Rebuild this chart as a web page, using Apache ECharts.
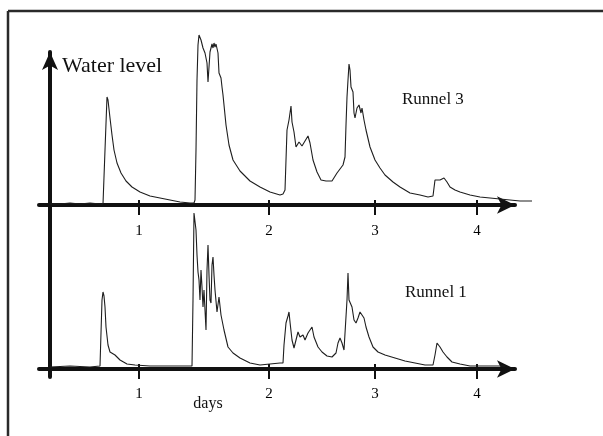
<!DOCTYPE html>
<html>
<head>
<meta charset="utf-8">
<script src="https://cdn.jsdelivr.net/npm/echarts@6/dist/echarts.min.js"></script>
<style>
  html, body { margin: 0; padding: 0; background: #fff; }
  #chart { width: 603px; height: 436px; }
</style>
</head>
<body>
<div id="chart"></div>
<script>
(function () {
  "use strict";
  const chart = echarts.init(document.getElementById("chart"));

  // time (days) / water level (relative units)
  const runnel3 = [
    [0.00, 0.5], [0.10, 0.5], [0.20, 1.0], [0.30, 0.5], [0.40, 1.0], [0.50, 0.5], [0.53, 0.5],
    [0.55, 27.5], [0.57, 54], [0.58, 52.5], [0.60, 43.5], [0.62, 35], [0.64, 27.5], [0.67, 21],
    [0.71, 16], [0.76, 12], [0.82, 9], [0.90, 6.5], [1.00, 4.5], [1.10, 3.5], [1.20, 2.5],
    [1.30, 1.5], [1.40, 1.0], [1.44, 1.0], [1.45, 2.5], [1.46, 27.5], [1.47, 62.5], [1.48, 80],
    [1.49, 85], [1.51, 82.5], [1.53, 78.5], [1.55, 76], [1.57, 71], [1.58, 61.5], [1.60, 76.5],
    [1.61, 77.5], [1.62, 80.5], [1.63, 78.5], [1.64, 81], [1.65, 79], [1.66, 80.5], [1.68, 76],
    [1.69, 66], [1.71, 63.5], [1.72, 59], [1.73, 55], [1.75, 45], [1.76, 40], [1.79, 30],
    [1.83, 22.5], [1.90, 17], [2.00, 12], [2.10, 9], [2.20, 6.5], [2.30, 5], [2.33, 5.5],
    [2.35, 7.5], [2.36, 22.5], [2.37, 37.5], [2.39, 42.5], [2.41, 49.5], [2.42, 41.5], [2.44, 36.5],
    [2.46, 29], [2.49, 31.5], [2.52, 29.5], [2.55, 32], [2.58, 34.5], [2.60, 31], [2.63, 22.5],
    [2.67, 16.5], [2.71, 12.5], [2.76, 12], [2.82, 12], [2.87, 16], [2.93, 20], [2.95, 24],
    [2.96, 40], [2.97, 54], [2.98, 62.5], [2.99, 70.5], [3.00, 67.5], [3.01, 59], [3.03, 56.5],
    [3.04, 46], [3.05, 43.5], [3.07, 48.5], [3.09, 50], [3.11, 46], [3.12, 48.5], [3.14, 42.5],
    [3.16, 37.5], [3.20, 29], [3.25, 22.5], [3.30, 18.5], [3.35, 15], [3.43, 11.5], [3.50, 9],
    [3.60, 6], [3.70, 5], [3.78, 4], [3.83, 4.5], [3.85, 12.5], [3.87, 13], [3.90, 12.5],
    [3.94, 13.5], [3.97, 11.5], [4.00, 9], [4.05, 7.5], [4.10, 6.5], [4.20, 5], [4.30, 4],
    [4.40, 3.5], [4.50, 3], [4.60, 2.5], [4.70, 2], [4.82, 2]
  ];
  const runnel1 = [
    [0.00, 1], [0.20, 1.5], [0.40, 1], [0.50, 1.5], [0.51, 1.5], [0.52, 34.5], [0.53, 38.5],
    [0.54, 36.5], [0.55, 31], [0.56, 21], [0.58, 12], [0.60, 8.5], [0.65, 7], [0.70, 4.5],
    [0.77, 2.5], [0.85, 2], [1.00, 1.5], [1.20, 1.5], [1.42, 1.5], [1.43, 34.5], [1.44, 78],
    [1.46, 69.5], [1.47, 57], [1.48, 48.5], [1.49, 44.5], [1.50, 34.5], [1.51, 49.5], [1.52, 41],
    [1.53, 31], [1.54, 39.5], [1.56, 19.5], [1.57, 49.5], [1.58, 62], [1.59, 47], [1.60, 34.5],
    [1.61, 33], [1.62, 52], [1.63, 56], [1.64, 47], [1.65, 39.5], [1.67, 28.5], [1.69, 36],
    [1.71, 27], [1.74, 19.5], [1.78, 11], [1.83, 8], [1.90, 5.5], [2.00, 3], [2.10, 2],
    [2.20, 2.5], [2.30, 3], [2.33, 3], [2.34, 12], [2.36, 23], [2.38, 26.5], [2.39, 28.5],
    [2.40, 23.5], [2.42, 14.5], [2.44, 10.5], [2.46, 14.5], [2.48, 18.5], [2.50, 16], [2.53, 17],
    [2.55, 14.5], [2.58, 18], [2.62, 21], [2.64, 16], [2.68, 11], [2.72, 8.5], [2.77, 6.5],
    [2.82, 6], [2.86, 8], [2.88, 13], [2.90, 15.5], [2.92, 13], [2.94, 9.5], [2.96, 8.5],
    [2.97, 34.5], [2.98, 48], [2.99, 34.5], [3.00, 33.5], [3.02, 31], [3.04, 24.5], [3.06, 23],
    [3.08, 25.5], [3.10, 28.5], [3.12, 27], [3.14, 25.5], [3.16, 21], [3.19, 16], [3.23, 11],
    [3.28, 8.5], [3.35, 7], [3.45, 5.5], [3.55, 4], [3.65, 3], [3.75, 2], [3.83, 2], [3.85, 7],
    [3.87, 13], [3.90, 11], [3.93, 8.5], [3.97, 6], [4.02, 3.5], [4.10, 2.5], [4.20, 1.5],
    [4.40, 1.5], [4.55, 1.5]
  ];
  const dayTicks = [0.89, 2.19, 3.25, 4.27];
  const dayLabels = ["1", "2", "3", "4"];

  const INK = "#111";
  const SERIF = '"Liberation Serif", "DejaVu Serif", serif';
  const X_MIN = -0.11, X_MAX = 4.65;

  const dayLabel = v => {
    const i = dayTicks.findIndex(t => Math.abs(t - v) < 1e-6);
    return i < 0 ? "" : dayLabels[i];
  };

  function dayAxis(gridIndex, inner, margin) {
    return {
      type: "value", gridIndex, min: X_MIN, max: X_MAX, position: "bottom",
      splitLine: { show: false },
      axisLine: inner ? { show: false } : {
        show: true, onZero: false,
        symbol: ["none", "arrow"], symbolSize: [13, 18],
        lineStyle: { color: INK, width: 4 }
      },
      axisTick: {
        show: true, inside: inner, length: inner ? 5 : 10, customValues: dayTicks,
        lineStyle: { color: INK, width: 2 }
      },
      axisLabel: {
        show: !inner, customValues: dayTicks, formatter: dayLabel, margin,
        fontFamily: SERIF, fontSize: 15, color: "#000"
      }
    };
  }

  function levelAxis(gridIndex) {
    return { type: "value", gridIndex, min: 0, max: 90, show: false };
  }

  chart.setOption({
    animation: false,
    backgroundColor: "#fff",
    grid: [
      { left: 39, width: 476, top: 25, height: 180 },
      { left: 39, width: 476, top: 189, height: 180 },
      { left: 50, width: 400, top: 52, height: 325 },
      // the upper trace runs on a little past the arrow head
      { left: 39, width: 493, top: 25, height: 180 }
    ],
    xAxis: [
      dayAxis(0, false, 19), dayAxis(0, true),
      dayAxis(1, false, 18), dayAxis(1, true),
      { type: "value", gridIndex: 2, show: false, min: 0, max: 1 },
      { type: "value", gridIndex: 3, show: false, min: X_MIN, max: 4.82 }
    ],
    yAxis: [
      levelAxis(0), levelAxis(1),
      {
        type: "value", gridIndex: 2, min: 0, max: 1,
        axisLine: {
          show: true, onZero: false,
          symbol: ["none", "arrow"], symbolSize: [12, 18],
          lineStyle: { color: INK, width: 4 }
        },
        axisTick: { show: false }, axisLabel: { show: false }, splitLine: { show: false }
      },
      levelAxis(3)
    ],
    series: [
      {
        name: "Runnel 3", type: "line", xAxisIndex: 5, yAxisIndex: 3, data: runnel3,
        showSymbol: false, clip: false, lineStyle: { color: "#1e1e1e", width: 1.1 }
      },
      {
        name: "Runnel 1", type: "line", xAxisIndex: 2, yAxisIndex: 1, data: runnel1,
        showSymbol: false, clip: false, lineStyle: { color: "#1e1e1e", width: 1.1 }
      }
    ],
    graphic: [
      { type: "line", shape: { x1: 8, y1: 11, x2: 603, y2: 11 }, style: { stroke: "#2a2a2a", lineWidth: 2.5 } },
      { type: "line", shape: { x1: 8, y1: 11, x2: 8, y2: 436 }, style: { stroke: "#2a2a2a", lineWidth: 2.5 } },
      { type: "text", x: 62, y: 66, style: { text: "Water level", font: "22px " + SERIF, fill: INK, verticalAlign: "middle" } },
      { type: "text", x: 402, y: 100, style: { text: "Runnel 3", font: "17px " + SERIF, fill: INK, verticalAlign: "middle" } },
      { type: "text", x: 405, y: 293, style: { text: "Runnel 1", font: "17px " + SERIF, fill: INK, verticalAlign: "middle" } },
      { type: "text", x: 208, y: 404, style: { text: "days", font: "16px " + SERIF, fill: INK, align: "center", verticalAlign: "middle" } }
    ]
  });

  window.addEventListener("resize", () => chart.resize());
})();
</script>
</body>
</html>
